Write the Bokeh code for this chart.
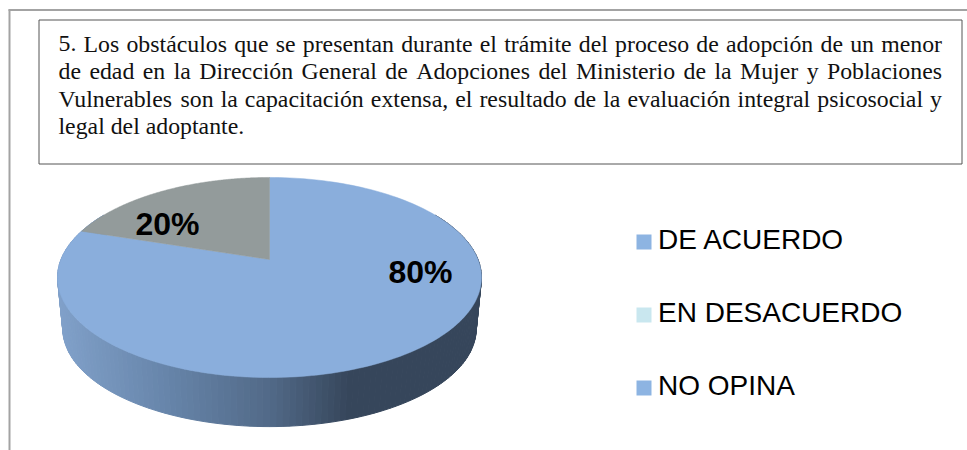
from bokeh.plotting import figure
from bokeh.models import Range1d
from bokeh.core.properties import value
from bokeh.embed import file_html
from bokeh.resources import INLINE
import numpy as np

categories = ["DE ACUERDO", "EN DESACUERDO", "NO OPINA"]
shares = [80, 0, 20]
slice_colors = ["#8aaedc", "#c9e7ef", "#939b9b"]
legend_colors = ["#8db4e2", "#c9e7ef", "#8db4e2"]
question_lines = [
    "5. Los obstáculos que se presentan durante el trámite del proceso de adopción de un menor",
    "de edad en la Dirección General de Adopciones del Ministerio de la Mujer y Poblaciones",
    "Vulnerables son la capacitación extensa, el resultado de la evaluación integral psicosocial y",
    "legal del adoptante.",
]

SERIF = value("Liberation Serif")
SANS = value("Liberation Sans")

p = figure(width=967, height=450, x_range=Range1d(0, 967), y_range=Range1d(450, 0),
           output_backend="svg", toolbar_location=None, min_border=0,
           outline_line_color=None, background_fill_color="white", border_fill_color="white")
p.axis.visible = False
p.grid.visible = False

# Outer frame and question box
p.line([8, 967], [9.5, 9.5], line_color="#a3a3a3", line_width=2)
p.line([9, 9], [9, 450], line_color="#a3a3a3", line_width=2)
p.line([38.5, 961.5, 961.5, 38.5, 38.5], [19.5, 19.5, 163.5, 163.5, 19.5], line_color="#555555", line_width=1)

# Justified question text, word by word
W = {"a": .444, "b": .5, "c": .444, "d": .5, "e": .444, "f": .333, "g": .5, "h": .5, "i": .278, "j": .278,
     "k": .5, "l": .278, "m": .778, "n": .5, "o": .5, "p": .5, "q": .5, "r": .333, "s": .389, "t": .278,
     "u": .5, "v": .5, "w": .722, "x": .5, "y": .5, "z": .444, "á": .444, "é": .444, "í": .278, "ó": .5,
     "A": .722, "D": .722, "G": .722, "L": .611, "M": .889, "P": .556, "V": .722, "5": .5, ".": .25, ",": .25}
FS = 23.8
LEFT, RIGHT = 58.0, 941.5
MID, LEAD = 43.0, 27.55
wx, wy, wt = [], [], []
for i, line in enumerate(question_lines):
    words = line.split(" ")
    widths = [sum(W[c] for c in w) * FS for w in words]
    gap = (RIGHT - LEFT - sum(widths)) / (len(words) - 1) if i < len(question_lines) - 1 else .25 * FS
    x = LEFT
    for w, wd in zip(words, widths):
        wx.append(x); wy.append(MID + i * LEAD); wt.append(w)
        x += wd + gap
p.text(wx, wy, text=wt, text_font=SERIF, text_font_size=f"{FS}px", text_color="#111111",
       text_baseline="middle", text_align="left")

# Perspective pie
CX, AY = 269.0, 259.0
K, R, H = 0.18, 208.5, 96.8
SCALE, BY = 0.975, 311.0


def project(phi, base=False):
    u, v = np.sin(phi), -np.cos(phi)
    s = 1 / (1 - K * v)
    if base:
        return CX + R * u * s * SCALE, BY + H * v * s * SCALE
    return CX + R * u * s, AY + H * v * s


def wall_color(x):
    xs = [60, 170, 269, 350, 480]
    r = np.interp(x, xs, [0x80, 0x66, 0x52, 0x36, 0x36])
    g = np.interp(x, xs, [0xa0, 0x84, 0x6a, 0x46, 0x47])
    b = np.interp(x, xs, [0xc9, 0xa9, 0x88, 0x5b, 0x5c])
    return "#%02x%02x%02x" % (int(r), int(g), int(b))


edges = np.radians(np.linspace(60, 300, 161))
qx, qy, qc = [], [], []
for a, b in zip(edges[:-1], edges[1:]):
    x0, y0 = project(a)
    x1, y1 = project(b)
    x2, y2 = project(b, True)
    x3, y3 = project(a, True)
    qx.append([x0, x1, x2, x3]); qy.append([y0, y1, y2, y3])
    qc.append(wall_color((x0 + x1) / 2))
p.patches(qx, qy, fill_color=qc, line_color=qc, line_width=1)

start = 0.0
total = sum(shares)
for share, color in zip(shares, slice_colors):
    if share == 0:
        continue
    end = start + 2 * np.pi * share / total
    phis = np.linspace(start, end, 180)
    ax, ay = project(phis)
    p.patch(np.r_[CX, ax], np.r_[AY, ay], fill_color=color, line_color=color, line_width=0.5)
    start = end

# Data labels
p.text([420, 167], [271.5, 223], text=[f"{shares[0]}%", f"{shares[2]}%"], text_font=SANS, text_font_size="32px",
       text_font_style="bold", text_color="#000000", text_align="center", text_baseline="middle")

# Legend
ly = [241.5, 314.5, 387.5]
p.rect([643.5] * 3, ly, width=15, height=15, fill_color=legend_colors, line_color=None)
p.text([657.5] * 3, [y - 2.5 for y in ly], text=categories, text_font=SANS,
       text_font_size="28px", text_color="#000000", text_align="left", text_baseline="middle")

open("out.html", "w").write(file_html(p, INLINE))
